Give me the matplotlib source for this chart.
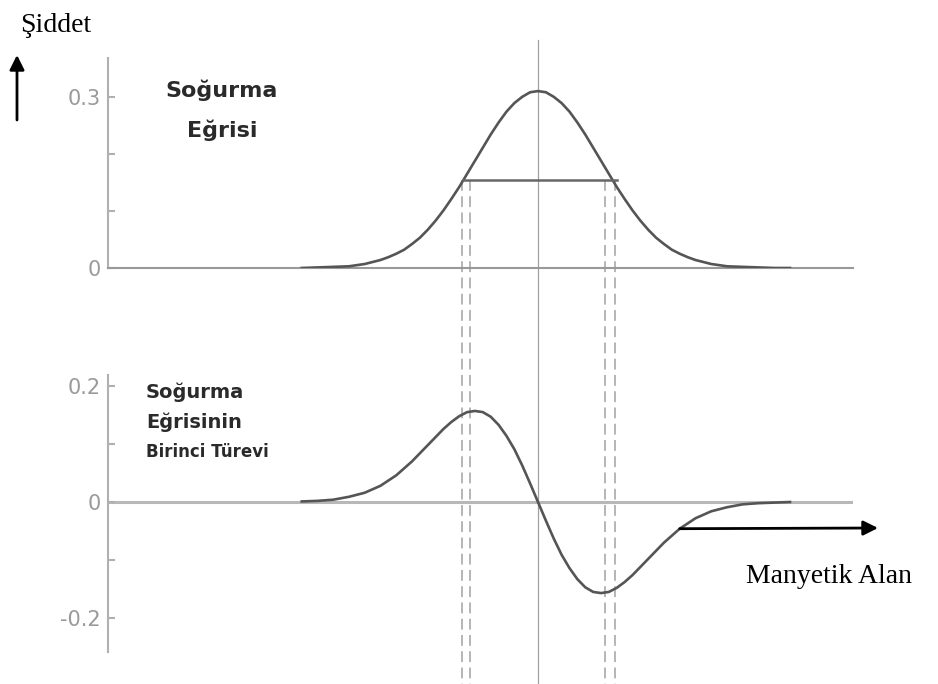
import matplotlib.pyplot as plt
import matplotlib.transforms as mtransforms

W, H = 938, 684

# field in units of the line width (sigma), centred on resonance
field = [-3.75, -3.5, -3.25, -3.0, -2.75,
         -2.5, -2.375, -2.25, -2.125, -2.0, -1.875, -1.75, -1.625, -1.5, -1.375,
         -1.25, -1.125, -1.0, -0.875, -0.75, -0.625, -0.5, -0.375, -0.25, -0.125,
         0.0,
         0.125, 0.25, 0.375, 0.5, 0.625, 0.75, 0.875, 1.0, 1.125, 1.25,
         1.375, 1.5, 1.625, 1.75, 1.875, 2.0, 2.125, 2.25, 2.375, 2.5,
         2.75, 3.0, 3.25, 3.5, 3.75, 4.0]
absorption = [0.000, 0.001, 0.002, 0.003, 0.007,
              0.014, 0.019, 0.025, 0.032, 0.042, 0.053, 0.067, 0.083, 0.101, 0.121,
              0.142, 0.165, 0.188, 0.211, 0.234, 0.255, 0.274, 0.289, 0.300, 0.308,
              0.310,
              0.308, 0.300, 0.289, 0.274, 0.255, 0.234, 0.211, 0.188, 0.165, 0.142,
              0.121, 0.101, 0.083, 0.067, 0.053, 0.042, 0.032, 0.025, 0.019, 0.014,
              0.007, 0.003, 0.002, 0.001, 0.000, 0.000]
derivative = [0.001, 0.002, 0.004, 0.009, 0.016,
              0.028, 0.037, 0.046, 0.058, 0.070, 0.084, 0.098, 0.112, 0.126, 0.138,
              0.148, 0.155, 0.157, 0.155, 0.147, 0.133, 0.114, 0.091, 0.063, 0.032,
              0.000,
              -0.032, -0.063, -0.091, -0.114, -0.133, -0.147, -0.155, -0.157, -0.155, -0.148,
              -0.138, -0.126, -0.112, -0.098, -0.084, -0.070, -0.058, -0.046, -0.037, -0.028,
              -0.016, -0.009, -0.004, -0.002, -0.001, 0.000]

half_max = 0.155
half_width = (-1.19, 1.25)
guide_x = [-1.21, -1.08, 1.06, 1.22]

top_ticks = [0, 0.1, 0.2, 0.3]
top_labels = ['0', '', '', '0.3']
bot_ticks = [-0.2, -0.1, 0, 0.1, 0.2]
bot_labels = ['-0.2', '', '0', '', '0.2']

curve_c = '#555555'
axis_c = '#b0b0b0'
label_c = '#9a9a9a'


def rect(l, t, r, b):
    return [l / W, 1 - b / H, (r - l) / W, (b - t) / H]


def fy(py):
    return 1 - py / H


fig = plt.figure(figsize=(W / 100, H / 100), dpi=100)
ax_top = fig.add_axes(rect(108, 58, 853, 268))
ax_bot = fig.add_axes(rect(108, 375, 853, 652))

for ax in (ax_top, ax_bot):
    ax.set_xlim(-6.825, 5.0)
    ax.patch.set_alpha(0)
    for s in ('top', 'right'):
        ax.spines[s].set_visible(False)
    ax.spines['left'].set_color(axis_c)
    ax.spines['left'].set_linewidth(1.5)
    ax.set_xticks([])
    ax.tick_params(axis='y', direction='in', length=5, width=1.5, color=axis_c,
                   labelcolor=label_c, labelsize=15, pad=5)

ax_top.set_ylim(0, 0.368)
ax_top.spines['bottom'].set_color('#999999')
ax_top.spines['bottom'].set_linewidth(1.5)
ax_top.set_yticks(top_ticks, top_labels)

ax_bot.set_ylim(-0.2586, 0.219)
ax_bot.spines['bottom'].set_visible(False)
ax_bot.set_yticks(bot_ticks, bot_labels)
ax_bot.axhline(0, color='#b8b8b8', lw=2.2, zorder=1)

ax_top.plot(field, absorption, color=curve_c, lw=1.9, zorder=3, solid_joinstyle='round')
ax_top.plot(half_width, [half_max, half_max], color='#666666', lw=1.8, zorder=3)
ax_bot.plot(field, derivative, color=curve_c, lw=1.9, zorder=3, solid_joinstyle='round')

# guide lines running through both panels
blend = mtransforms.blended_transform_factory(ax_top.transData, fig.transFigure)
ax_top.plot([0, 0], [fy(40), 0], color='#a0a0a0', lw=0.9, transform=blend, clip_on=False)
for x in guide_x:
    ax_top.plot([x, x], [fy(180), 0], color='#b0b0b0', lw=1.3, ls=(0, (6, 3)),
                transform=blend, clip_on=False)

# labels inside the panels
lab = dict(family='DejaVu Sans', weight='bold', color='#2a2a2a')
fig.text(222 / W, fy(90), 'Soğurma', ha='center', va='center', fontsize=16, **lab)
fig.text(222 / W, fy(130), 'Eğrisi', ha='center', va='center', fontsize=16, **lab)
fig.text(146 / W, fy(392), 'Soğurma', ha='left', va='center', fontsize=14, **lab)
fig.text(146 / W, fy(422), 'Eğrisinin', ha='left', va='center', fontsize=14, **lab)
fig.text(146 / W, fy(452), 'Birinci Türevi', ha='left', va='center', fontsize=12, **lab)

# axis captions with arrows
serif = dict(family='Liberation Serif', color='black')
fig.text(20 / W, fy(32), 'Şiddet', ha='left', va='baseline', fontsize=20, **serif)
fig.text(912 / W, fy(583), 'Manyetik Alan', ha='right', va='baseline', fontsize=20, **serif)

arrow = dict(arrowstyle='-|>', color='black', lw=2, mutation_scale=22, shrinkA=0, shrinkB=0)
ax_top.annotate('', xy=(17, H - 55), xytext=(17, H - 120), xycoords='figure pixels',
                textcoords='figure pixels', arrowprops=arrow, annotation_clip=False)
start = field.index(2.25)
ax_bot.annotate('', xy=(878, H - 528), xycoords='figure pixels',
                xytext=(field[start], derivative[start]), textcoords='data',
                arrowprops=arrow, annotation_clip=False)

fig.savefig('out.png', dpi=100)
